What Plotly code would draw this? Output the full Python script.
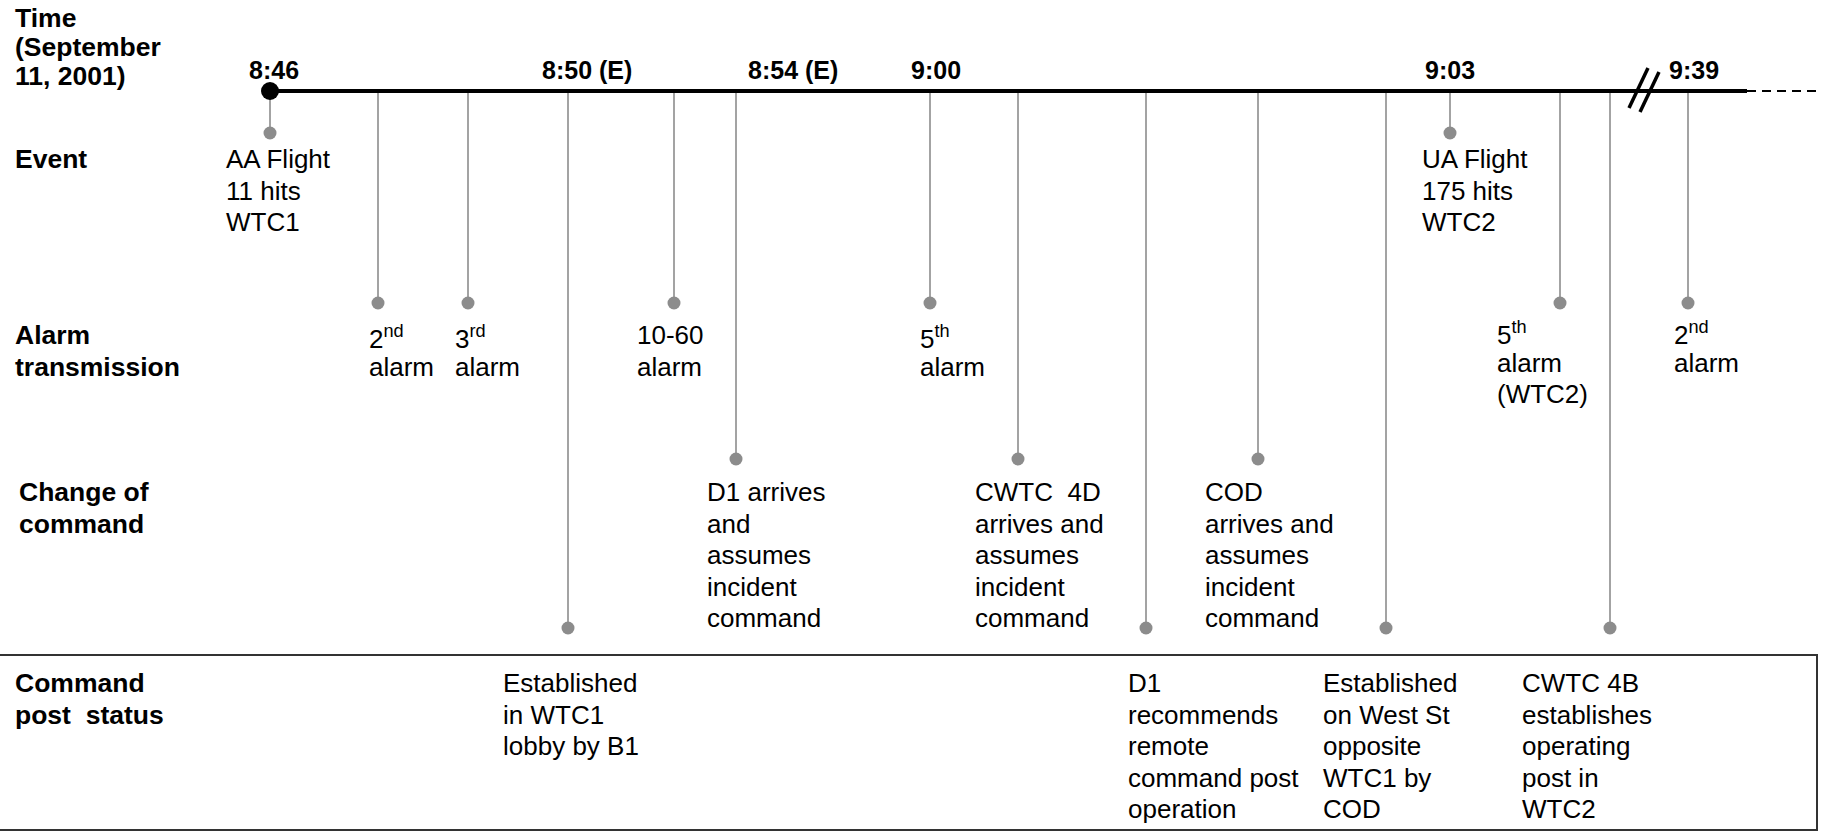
import plotly.graph_objects as go

# ---------------- data ----------------
time_labels = ["8:46", "8:50 (E)", "8:54 (E)", "9:00", "9:03", "9:39"]

row_labels = ["Event", "Alarm<br>transmission", "Change of<br>command", "Command<br>post  status"]
header_label = "Time<br>(September<br>11, 2001)"

# row index of each event (0=Event, 1=Alarm, 2=Change of command, 3=Command post)
event_row = [0, 1, 1, 3, 1, 2, 1, 2, 3, 2, 3, 0, 1, 3, 1]
event_text = [
    "AA Flight<br>11 hits<br>WTC1",
    "2<sup>nd</sup><br>alarm",
    "3<sup>rd</sup><br>alarm",
    "Established<br>in WTC1<br>lobby by B1",
    "10-60<br>alarm",
    "D1 arrives<br>and<br>assumes<br>incident<br>command",
    "5<sup>th</sup><br>alarm",
    "CWTC  4D<br>arrives and<br>assumes<br>incident<br>command",
    "D1<br>recommends<br>remote<br>command post<br>operation",
    "COD<br>arrives and<br>assumes<br>incident<br>command",
    "Established<br>on West St<br>opposite<br>WTC1 by<br>COD",
    "UA Flight<br>175 hits<br>WTC2",
    "5<sup>th</sup><br>alarm<br>(WTC2)",
    "CWTC 4B<br>establishes<br>operating<br>post in<br>WTC2",
    "2<sup>nd</sup><br>alarm",
]

# ---------------- layout (schematic positions) ----------------
W, H = 1822, 832
TL_Y = 91                     # timeline
TL_END = 1747                 # solid part ends, dashed continues
event_x = [270, 378, 468, 568, 674, 736, 930, 1018, 1146, 1258, 1386, 1450, 1560, 1610, 1688]
text_x = [226, 369, 455, 503, 637, 707, 920, 975, 1128, 1205, 1323, 1422, 1497, 1522, 1674]
time_label_x = [274, 587, 793, 936, 1450, 1694]
TIME_LABEL_Y = 70
row_dot_y = [133, 303, 459, 628]
row_text_y = [159, 335, 492, 683]
row_label_x = [15, 15, 19, 15]
LINE_SP = 31.5
BOX = dict(x0=-5, x1=1817, y0=655, y1=830)

FONT = "Liberation Sans, Arial, Helvetica, sans-serif"
REG = 26
BOLD = 26.5
GRAY_LINE = "#a3a3a3"
GRAY_DOT = "#8c8c8c"

fig = go.Figure()

# vertical connectors
vx, vy = [], []
for x, r in zip(event_x, event_row):
    vx += [x, x, None]
    vy += [TL_Y, row_dot_y[r], None]
fig.add_trace(go.Scatter(x=vx, y=vy, mode="lines",
                         line=dict(color=GRAY_LINE, width=2), hoverinfo="skip"))

# main timeline (solid + dashed)
fig.add_trace(go.Scatter(x=[event_x[0], TL_END], y=[TL_Y, TL_Y], mode="lines",
                         line=dict(color="black", width=4), hoverinfo="skip"))
fig.add_trace(go.Scatter(x=[TL_END, W], y=[TL_Y, TL_Y], mode="lines",
                         line=dict(color="black", width=2, dash="9px,6px"), hoverinfo="skip"))

# break mark
bx = [1629, 1648, None, 1640, 1659]
by = [108, 68, None, 112, 72]
fig.add_trace(go.Scatter(x=bx, y=by, mode="lines",
                         line=dict(color="black", width=3.5), hoverinfo="skip"))

# end dots
fig.add_trace(go.Scatter(x=event_x, y=[row_dot_y[r] for r in event_row], mode="markers",
                         marker=dict(color=GRAY_DOT, size=13, line=dict(width=0)),
                         hoverinfo="skip"))

# start dot
fig.add_trace(go.Scatter(x=[event_x[0]], y=[TL_Y], mode="markers",
                         marker=dict(color="black", size=18, line=dict(width=0)),
                         hoverinfo="skip"))

annotations = []


def add_text(text, x, y0, size, bold=False, spacing=LINE_SP, anchor="left"):
    for i, line in enumerate(text.split("<br>")):
        yy = y0 + i * spacing
        if "<sup>" in line:
            yy += 2
        t = "<b>" + line + "</b>" if bold else line
        annotations.append(dict(
            x=x, y=yy, xref="x", yref="y", text=t, showarrow=False,
            xanchor=anchor, yanchor="middle", borderpad=0, borderwidth=0,
            font=dict(family=FONT, size=size, color="black")))


# header / row labels
add_text(header_label, 15, 18, BOLD, bold=True, spacing=29)
for lbl, lx, ly in zip(row_labels, row_label_x, row_text_y):
    add_text(lbl, lx, ly, BOLD, bold=True)

# time labels
for lbl, tx in zip(time_labels, time_label_x):
    add_text(lbl, tx, TIME_LABEL_Y, 25, bold=True, anchor="center")

# event texts
for txt, tx, r, ex in zip(event_text, text_x, event_row, event_x):
    y0 = row_text_y[r]
    if r == 1 and ex > 1500:
        y0 -= 4
    add_text(txt, tx, y0, REG)

fig.update_layout(
    width=W, height=H,
    margin=dict(l=0, r=0, t=0, b=0),
    paper_bgcolor="white", plot_bgcolor="white",
    showlegend=False,
    xaxis=dict(range=[0, W], visible=False, fixedrange=True),
    yaxis=dict(range=[H, 0], visible=False, fixedrange=True),
    shapes=[dict(type="rect", xref="x", yref="y", layer="below",
                 line=dict(color="#333333", width=2), **BOX)],
    annotations=annotations,
)

fig.write_html("out.html", config={"displayModeBar": False},
               post_script="document.body.style.margin='0';document.body.style.overflow='hidden';")
